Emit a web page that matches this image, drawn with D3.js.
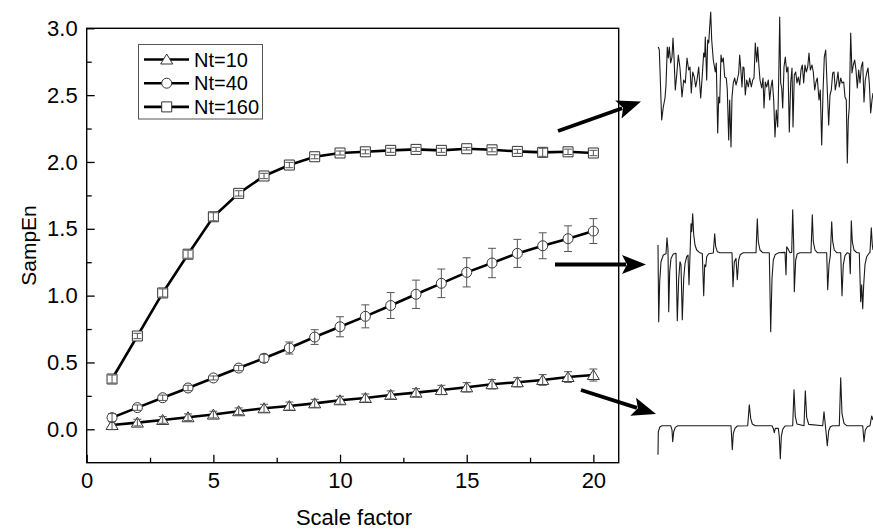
<!DOCTYPE html>
<html>
<head>
<meta charset="utf-8">
<script src="https://cdn.jsdelivr.net/npm/d3@7"></script>
<style>
  body { margin: 0; background: #fff; }
  text { font-family: "Liberation Sans", Arial, sans-serif; fill: #000; }
</style>
</head>
<body>
<svg id="chart" width="873" height="531"></svg>
<script>
// scale factors 1..20
var scaleFactor = [1, 2, 3, 4, 5, 6, 7, 8, 9, 10, 11, 12, 13, 14, 15, 16, 17, 18, 19, 20];

// SampEn, Nt=10
var nt10 = [0.032, 0.05, 0.07, 0.09, 0.11, 0.135, 0.157, 0.174, 0.194, 0.217,
  0.234, 0.257, 0.274, 0.294, 0.314, 0.337, 0.352, 0.369, 0.391, 0.406];
var nt10Err = [0.035, 0.025, 0.025, 0.025, 0.025, 0.025, 0.03, 0.03, 0.03, 0.03,
  0.03, 0.03, 0.03, 0.035, 0.035, 0.035, 0.035, 0.04, 0.04, 0.045];

// SampEn, Nt=40
var nt40 = [0.087, 0.162, 0.236, 0.309, 0.384, 0.458, 0.531, 0.608, 0.69, 0.767,
  0.845, 0.926, 1.01, 1.092, 1.174, 1.244, 1.316, 1.373, 1.426, 1.483];
var nt40Err = [0.03, 0.02, 0.02, 0.02, 0.015, 0.02, 0.03, 0.045, 0.055, 0.075,
  0.086, 0.097, 0.106, 0.107, 0.109, 0.11, 0.105, 0.097, 0.096, 0.093];

// SampEn, Nt=160
var nt160 = [0.376, 0.698, 1.02, 1.31, 1.59, 1.765, 1.895, 1.977, 2.039, 2.067,
  2.076, 2.087, 2.094, 2.087, 2.099, 2.091, 2.079, 2.072, 2.076, 2.067];
var nt160Err = [0.03, 0.02, 0.03, 0.03, 0.03, 0.02, 0.02, 0.02, 0.015, 0.015,
  0.015, 0.015, 0.015, 0.015, 0.01, 0.015, 0.015, 0.03, 0.02, 0.02];

var yTicks = [0, 0.5, 1.0, 1.5, 2.0, 2.5, 3.0];
var yMinor = [0.25, 0.75, 1.25, 1.75, 2.25, 2.75];
var xTicks = [0, 5, 10, 15, 20];
var xMinor = [2.5, 7.5, 12.5, 17.5];

// example signals (time, amplitude) shown at the right
var sigA = [[0.3,33],[1.3,30],[3.7,-40],[5.3,-27],[7,-18],[8,-5],[9.3,33],[10.3,22],[11.3,33],[12.7,17],
  [14,23],[15,42],[16,23],[17.3,-10],[18.7,5],[20.3,25],[22,12],[24,-17],[25.7,0],[27.3,-3],
  [29,22],[30.7,10],[32,13],[33.3,-13],[34.7,8],[36.3,3],[37.7,-7],[39,0],[40.7,13],[41.7,-3],
  [42.7,-18],[44.3,5],[45.7,27],[46.7,23],[47.3,43],[48.7,0],[49.7,40],[50.7,37],[51.7,53],[52.7,68],
  [53.7,40],[55.3,20],[57.3,8],[58.3,17],[59.7,-53],[60.7,-17],[61.7,-23],[63,25],[64,18],[65.3,22],
  [66.7,3],[68.3,2],[69.3,-10],[70.7,-60],[71.7,-20],[73,-67],[74,-17],[75.3,-3],[76.7,2],[78,-5],
  [79.3,0],[80.7,7],[81.7,25],[82.7,12],[84,-7],[85,13],[86,12],[87.3,-15],[88.7,0],[90.3,-7],
  [91.7,2],[93.3,-7],[94.7,0],[96,2],[97.3,37],[98.7,18],[99.7,33],[101,13],[102,0],[103.7,-8],
  [105,2],[106,-28],[107.3,-2],[108.7,-7],[110.3,0],[111.7,-20],[113,-7],[114.3,0],[115.7,-20],[117,-57],
  [118.3,-30],[119.7,-47],[120.7,0],[121.7,63],[122.7,-3],[123.7,-8],[124.7,-28],[126,13],[127.3,23],[128.7,8],
  [130,13],[131.3,-52],[132.7,-3],[134,12],[135,-47],[136.3,5],[137.7,8],[139,-3],[140.3,3],[141.7,-5],
  [143,10],[144.3,15],[145.7,-3],[147,15],[148.3,8],[149.7,13],[151,27],[152.3,10],[154,15],[155.3,8],
  [156.7,-10],[158,-2],[159.3,2],[161,-20],[162.3,-10],[163.7,-65],[165,-13],[166.3,23],[167.7,30],[169,-3],
  [170.7,-45],[172,-15],[173.3,-10],[174.7,7],[176,8],[177.3,-10],[178.7,-2],[180,8],[181.3,-7],[182.7,2],
  [184,-3],[185.7,-2],[187,-17],[188.3,-20],[189.3,-83],[190.3,-40],[191.3,-27],[192.7,47],[194,7],[195.3,15],
  [196.7,20],[198,10],[199.3,-8],[200.7,10],[202,-3],[203.3,13],[204.7,18],[206,-22],[207.3,0],[208.7,7],
  [210,12],[211.3,-3],[212.7,-33],[214,-20],[215,-13]];

var sigB = [[0,7.7],[0.7,-69],[1.7,-29],[3,-9],[5.3,-2.3],[8,-1],[9,15],[10,2.7],[10.7,-59],[11.7,-19],
  [13,-5.7],[15.3,-1.3],[18,-0.7],[19.3,-68],[20.7,-26],[22,-9],[23,-12],[24.3,-67],[25.7,-26],[27,-11],
  [28.7,-4],[30,-2.3],[31,-32],[32,-2.3],[33,29],[33.7,21],[34.7,39],[35.7,18],[37,7.7],[38.7,2.7],
  [41.3,0.3],[44.3,-0.7],[45.7,-43],[46.7,-12],[47.7,-14],[48.7,-4],[50.7,-1],[55.3,-0.3],[56.7,19],[57.7,6],
  [59.3,1],[62,0],[74,0],[75,-34],[76.3,-9],[78,-5.7],[79.3,-27],[80.7,-7.3],[82.3,-1.7],[85.3,0],
  [98,0],[99.3,34],[100.3,11],[102,2.7],[104.7,0],[111.3,0],[112.7,-79],[114,-26],[115.3,-7.3],[117.3,-1.7],
  [120.7,0],[127,0.3],[128,-22],[128.7,6],[130.3,3.3],[132,0],[133.7,0.3],[134.7,43],[135.7,7.7],[136.3,-39],
  [137.7,-7.3],[139.3,-1],[142,0],[153,0],[154.3,38],[155.3,11],[157,2.7],[159.3,0],[168.7,0],[169.7,-37],
  [171,-12],[172.3,-3],[173.7,31],[174.7,11],[176.3,2.7],[178.7,0],[182.7,0],[184,-43],[185.3,-12],[187,-3],
  [189.3,0],[191.3,-0.7],[192.3,-21],[193.3,32],[194.3,11],[196,2.7],[198.7,0],[201.3,0],[202.7,-49],[203.7,-32],
  [204.7,-56],[205.7,-32],[207,-12],[208.7,-4],[210.7,-1],[212,0.3],[213.3,25],[214.3,7.7],[215,2.7]];

var sigC = [[0,-29],[0.3,-6],[2,-1],[4,0],[12.7,0],[14,-4.3],[14.7,-16],[15.7,-6],[17.3,-1.7],[20,0],
  [73,0],[74.3,-24],[75.3,-7.7],[77,-2.7],[79.3,-0.3],[89.7,0],[91.3,21],[92.7,7.3],[94.3,1.7],[97.3,0],
  [114,0],[115.3,-2.7],[116.3,-7],[117.3,-2.7],[120.3,-2.7],[121.3,-11],[122.3,-33],[123.3,-11],[124.7,-3.7],[127,-0.3],
  [134.7,0],[136,36],[137.3,9],[139,1.7],[146,0],[147.3,35],[148.7,8.3],[150.7,1.3],[164.7,0],[166,14],
  [167,4],[168,-6],[169.3,-20],[170.7,-5],[172.3,-1],[174.7,0],[181.3,0],[182.7,48],[184,12],[186,2.3],
  [188.7,0],[204.7,0],[206,-16],[207.3,-4.3],[209.3,-1],[212,0],[213.7,9.7],[215,5.7]];

(function() {
  var svg = d3.select('#chart');

  // plot area
  var margin = { left: 86.7, right: 618.7, top: 28.3, bottom: 462.7 };

  var x = d3.scaleLinear().domain([0, 21]).range([margin.left, margin.right]);
  var y = d3.scaleLinear().domain([-0.25, 3]).range([margin.bottom, margin.top]);

  // frame
  svg.append('rect')
    .attr('x', margin.left).attr('y', margin.top)
    .attr('width', margin.right - margin.left).attr('height', margin.bottom - margin.top)
    .attr('fill', 'none').attr('stroke', '#000').attr('stroke-width', 1.4);

  // axes, ticks pointing inside
  svg.append('g')
    .attr('transform', 'translate(' + margin.left + ',0)')
    .call(d3.axisLeft(y).tickValues(yTicks).tickSize(-8).tickPadding(9).tickFormat(d3.format('.1f')));
  svg.append('g')
    .attr('transform', 'translate(' + margin.left + ',0)')
    .call(d3.axisLeft(y).tickValues(yMinor).tickSize(-5).tickFormat(''));

  svg.append('g')
    .attr('transform', 'translate(0,' + margin.bottom + ')')
    .call(d3.axisBottom(x).tickValues(xTicks).tickSize(-8).tickPadding(10).tickFormat(d3.format('d')));
  svg.append('g')
    .attr('transform', 'translate(0,' + margin.bottom + ')')
    .call(d3.axisBottom(x).tickValues(xMinor).tickSize(-5).tickFormat(''));

  svg.selectAll('.domain').remove();
  svg.selectAll('.tick line').attr('stroke', '#000').attr('stroke-width', 1.3);
  svg.selectAll('.tick text').style('font-size', '22px').attr('fill', '#000');

  // axis titles
  svg.append('text')
    .attr('transform', 'translate(36,' + ((margin.top + margin.bottom) / 2) + ') rotate(-90)')
    .attr('text-anchor', 'middle')
    .style('font-size', '21px')
    .text('SampEn');

  svg.append('text')
    .attr('x', 354)
    .attr('y', 525)
    .attr('text-anchor', 'middle')
    .style('font-size', '22px')
    .text('Scale factor');

  // markers
  function markerPath(type) {
    if (type === 'tri') return 'M0,-5.5L6,4.5L-6,4.5Z';
    if (type === 'circle') return 'M5,0A5,5 0 1,1 -5,0A5,5 0 1,1 5,0Z';
    return 'M-5,-5L5,-5L5,5L-5,5Z';
  }

  var series = [
    { name: 'Nt=10', values: nt10, err: nt10Err, marker: 'tri' },
    { name: 'Nt=40', values: nt40, err: nt40Err, marker: 'circle' },
    { name: 'Nt=160', values: nt160, err: nt160Err, marker: 'square' }
  ];

  var line = d3.line()
    .x(function(d) { return x(d[0]); })
    .y(function(d) { return y(d[1]); });

  series.forEach(function(s) {
    var pts = scaleFactor.map(function(f, i) { return [f, s.values[i], s.err[i]]; });
    var g = svg.append('g');

    // connecting line
    g.append('path')
      .attr('d', line(pts))
      .attr('fill', 'none')
      .attr('stroke', '#000')
      .attr('stroke-width', 2.6);

    // markers
    g.selectAll('path.m')
      .data(pts)
      .enter()
      .append('path')
      .attr('class', 'm')
      .attr('transform', function(d) { return 'translate(' + x(d[0]) + ',' + y(d[1]) + ')'; })
      .attr('d', markerPath(s.marker))
      .attr('fill', '#fff')
      .attr('stroke', '#333')
      .attr('stroke-width', 1);

    // error bars
    var eb = g.selectAll('g.eb')
      .data(pts)
      .enter()
      .append('g')
      .attr('class', 'eb')
      .attr('stroke', '#555')
      .attr('stroke-width', 1);
    eb.append('line')
      .attr('x1', function(d) { return x(d[0]); })
      .attr('x2', function(d) { return x(d[0]); })
      .attr('y1', function(d) { return y(d[1] - d[2]); })
      .attr('y2', function(d) { return y(d[1] + d[2]); });
    eb.append('line')
      .attr('x1', function(d) { return x(d[0]) - 4; })
      .attr('x2', function(d) { return x(d[0]) + 4; })
      .attr('y1', function(d) { return y(d[1] + d[2]); })
      .attr('y2', function(d) { return y(d[1] + d[2]); });
    eb.append('line')
      .attr('x1', function(d) { return x(d[0]) - 4; })
      .attr('x2', function(d) { return x(d[0]) + 4; })
      .attr('y1', function(d) { return y(d[1] - d[2]); })
      .attr('y2', function(d) { return y(d[1] - d[2]); });
  });

  // legend
  var legend = svg.append('g');
  legend.append('rect')
    .attr('x', 138.5).attr('y', 44.5)
    .attr('width', 124).attr('height', 74.5)
    .attr('fill', '#fff')
    .attr('stroke', '#555')
    .attr('stroke-width', 1);

  series.forEach(function(s, i) {
    var ly = 59.5 + i * 23.7;
    legend.append('line')
      .attr('x1', 144).attr('x2', 189)
      .attr('y1', ly).attr('y2', ly)
      .attr('stroke', '#000').attr('stroke-width', 2.6);
    legend.append('path')
      .attr('transform', 'translate(166.7,' + ly + ')')
      .attr('d', markerPath(s.marker))
      .attr('fill', '#fff')
      .attr('stroke', '#333')
      .attr('stroke-width', 1);
    legend.append('text')
      .attr('x', 194)
      .attr('y', ly + 7)
      .style('font-size', '20px')
      .text(s.name);
  });

  // signal insets on the right
  var sigX = d3.scaleLinear().domain([0, 215]).range([658, 873]);
  var insets = [
    { data: sigA, y: d3.scaleLinear().domain([-85, 70]).range([165, 10]) },
    { data: sigB, y: d3.scaleLinear().domain([-80, 45]).range([332.7, 207.7]) },
    { data: sigC, y: d3.scaleLinear().domain([-30, 50]).range([455.7, 375.7]) }
  ];

  insets.forEach(function(ins) {
    var sl = d3.line()
      .x(function(d) { return sigX(d[0]); })
      .y(function(d) { return ins.y(d[1]); });
    svg.append('path')
      .attr('d', sl(ins.data))
      .attr('fill', 'none')
      .attr('stroke', '#1a1a1a')
      .attr('stroke-width', 1.1)
      .attr('stroke-linejoin', 'round');
  });

  // arrows pointing from the curves to the signals
  var arrows = [
    { x1: 558, y1: 131, x2: 641, y2: 101.5 },
    { x1: 555, y1: 264.5, x2: 646, y2: 264.5 },
    { x1: 581, y1: 390, x2: 656, y2: 414 }
  ];

  arrows.forEach(function(a) {
    var ang = Math.atan2(a.y2 - a.y1, a.x2 - a.x1);
    var len = 24, half = 9.5;
    var bx = a.x2 - len * Math.cos(ang), by = a.y2 - len * Math.sin(ang);
    svg.append('line')
      .attr('x1', a.x1).attr('y1', a.y1)
      .attr('x2', bx + 4 * Math.cos(ang)).attr('y2', by + 4 * Math.sin(ang))
      .attr('stroke', '#000').attr('stroke-width', 3.8);
    var px = -Math.sin(ang), py = Math.cos(ang);
    var nx = a.x2 - (len - 5) * Math.cos(ang), ny = a.y2 - (len - 5) * Math.sin(ang);
    svg.append('path')
      .attr('d', 'M' + a.x2 + ',' + a.y2 +
        'L' + (bx + half * px) + ',' + (by + half * py) +
        'L' + nx + ',' + ny +
        'L' + (bx - half * px) + ',' + (by - half * py) + 'Z')
      .attr('fill', '#000');
  });
}());
</script>
</body>
</html>
